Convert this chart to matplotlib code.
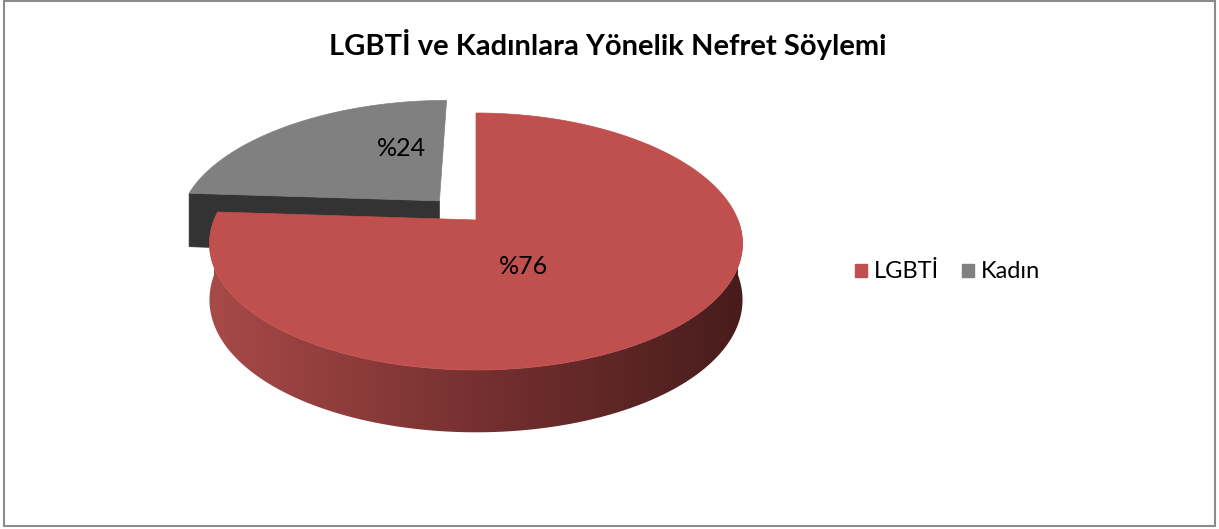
import numpy as np
import matplotlib.pyplot as plt
from matplotlib.patches import Polygon, Rectangle, Patch

# data
labels = ["LGBTİ", "Kadın"]
values = [76, 24]
pct_text = ["%76", "%24"]
colors_top = ["#c0504d", "#808080"]
side_dark = "#333333"
title = "LGBTİ ve Kadınlara Yönelik Nefret Söylemi"

# fake-3D projection of a unit disc onto pixel coords
CX, CY = 476, 220
RX = 262.0
A, B = 128.5, 21.5
K = 0.19
H0, HC = 55, 7.3


def proj(x, y):
    X = CX + RX * x * (1 - K * y)
    Y = CY - A * y + B * y * y
    return X, Y


def thick(y):
    return H0 - HC * y


def arc(t0, t1, ox=0.0, oy=0.0, n=200):
    t = np.radians(np.linspace(t0, t1, n))
    return np.cos(t) + ox, np.sin(t) + oy


fig = plt.figure(figsize=(12.19, 5.29), dpi=100)
ax = fig.add_axes([0, 0, 1, 1])
ax.set_xlim(0, 1219)
ax.set_ylim(529, 0)
ax.axis("off")

# outer frame
ax.add_patch(Rectangle((4, 1), 1211, 525, fill=False, edgecolor="#8c8c8c", lw=1.5))

total = sum(values)
start = 90.0
end_red = start - 360.0 * values[0] / total   # clockwise
# gray slice goes from end_red+360 back to 90, exploded along its bisector
g0, g1 = end_red + 360.0, start
mid = np.radians((g0 + g1) / 2)
d = 0.21
ox, oy = d * np.cos(mid), d * np.sin(mid)

# --- gray slice (behind) ---
# radial face at the far edge
rx_, ry_ = np.cos(np.radians(g0)) + ox, np.sin(np.radians(g0)) + oy
pts = [(ox, oy), (rx_, ry_)]
top = [proj(x, y) for x, y in pts]
bot = [(X, Y + thick(y)) for (X, Y), (x, y) in zip(top, pts)]
ax.add_patch(Polygon([top[0], top[1], bot[1], bot[0]], closed=True,
                     facecolor=side_dark, edgecolor=side_dark, lw=0.5))
# top face
xs, ys = arc(g1, g0, ox, oy)
poly = [proj(ox, oy)] + [proj(x, y) for x, y in zip(xs, ys)]
ax.add_patch(Polygon(poly, closed=True, facecolor=colors_top[1], edgecolor=colors_top[1], lw=0.5))

# --- red slice ---
# outer wall (front half) with horizontal shading
xs, ys = arc(-180, 0)
tp = [proj(x, y) for x, y in zip(xs, ys)]
bp = [(X, Y + thick(y)) for (X, Y), y in zip(tp, ys)]
wall = Polygon(tp + bp[::-1], closed=True, facecolor="none", edgecolor="none")
ax.add_patch(wall)
xmin = min(p[0] for p in tp) - 2
xmax = max(p[0] for p in tp) + 2
ymin = min(p[1] for p in tp) - 2
ymax = max(p[1] for p in bp) + 2
stops_x = np.array([0.0, 0.5, 1.0])
stops_c = np.array([[168, 74, 72], [118, 48, 48], [72, 28, 28]]) / 255.0
u = np.linspace(0, 1, 400)
grad = np.stack([np.interp(u, stops_x, stops_c[:, i]) for i in range(3)], axis=-1)[None, :, :]
im = ax.imshow(grad, extent=[xmin, xmax, ymax, ymin], aspect="auto", zorder=1)
im.set_clip_path(wall)

xs, ys = arc(start, end_red, n=400)
poly = [proj(0, 0)] + [proj(x, y) for x, y in zip(xs, ys)]
ax.add_patch(Polygon(poly, closed=True, facecolor=colors_top[0], edgecolor=colors_top[0],
                     lw=0.5, zorder=2))

# data labels
font = "Lato"
ax.text(524, 266, pct_text[0], fontsize=18, family=font, ha="center", va="center", zorder=3)
ax.text(401, 148, pct_text[1], fontsize=18, family=font, ha="center", va="center", zorder=3)

# title
ax.text(608, 45, title, fontsize=21, family=font, fontweight="bold", ha="center", va="center")

# legend
handles = [Patch(facecolor=c, edgecolor=c) for c in colors_top]
ax.legend(handles, labels, loc="center left", bbox_to_anchor=(846 / 1219, 1 - 272 / 529),
          ncol=2, frameon=False, prop={"family": font, "size": 17},
          handlelength=0.47, handleheight=0.47, handletextpad=0.3, columnspacing=1.0,
          borderaxespad=0)

fig.savefig("out.png", dpi=100)
